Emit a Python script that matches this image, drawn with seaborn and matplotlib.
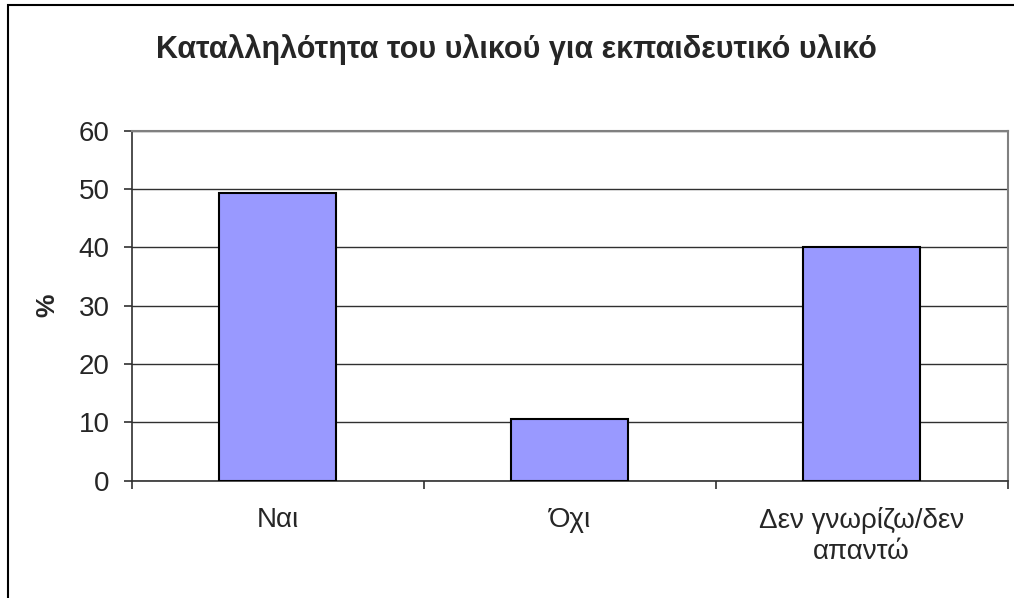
import matplotlib
matplotlib.use("Agg")
import matplotlib.pyplot as plt
import matplotlib.patches as patches
import seaborn as sns
import pandas as pd

categories = ["Ναι", "Όχι", "Δεν γνωρίζω/δεν\nαπαντώ"]
values = [49.3, 10.6, 40.1]
yticks = [0, 10, 20, 30, 40, 50, 60]
title = "Καταλληλότητα του υλικού για εκπαιδευτικό υλικό"

sns.set_theme(style="white")
plt.rcParams['font.family'] = ['Liberation Sans', 'DejaVu Sans']

df = pd.DataFrame({"cat": categories, "val": values})

fig = plt.figure(figsize=(10.14, 5.98), dpi=100)
ax = fig.add_axes([131.7/1014, 1-480.7/598, (1007.7-131.7)/1014, (480.7-130.7)/598])

sns.barplot(data=df, x="cat", y="val", ax=ax, color="#9999FF", saturation=1,
            width=0.4, edgecolor="black", linewidth=1.5, zorder=3)

ax.set_ylim(0, 60)
ax.set_xlim(-0.5, 2.5)
ax.set_yticks(yticks)
ax.set_yticklabels([str(t) for t in yticks], fontsize=20)
ax.yaxis.grid(True, color="#303030", linewidth=1.0, zorder=0)
ax.set_axisbelow(True)

ax.set_xticks(range(len(categories)))
ax.set_xticklabels(categories, fontsize=20, linespacing=1.25, va="top")
ax.set_xticks([-0.5, 0.5, 1.5, 2.5], minor=True)
ax.tick_params(axis="x", which="major", length=0, pad=19)
ax.tick_params(axis="x", which="minor", length=6, width=1.2, color="#303030", direction="out", bottom=True)
ax.tick_params(axis="y", which="major", length=6, width=1.2, color="#303030", direction="out", left=True, pad=10)

ax.set_xlabel("")
ax.set_ylabel("%", fontsize=19, fontweight="bold", labelpad=14)

for s in ["left", "bottom"]:
    ax.spines[s].set_color("#303030")
    ax.spines[s].set_linewidth(1.2)
for s in ["top", "right"]:
    ax.spines[s].set_color("#808080")
    ax.spines[s].set_linewidth(1.5)

fig.text(516/1014, 1-50/598, title, ha="center", va="center",
         fontsize=22, fontweight="bold")

fig.patches.append(patches.Rectangle((7.5/1014, -0.1), 1.2, 1.1 - 5/598,
                                     transform=fig.transFigure, fill=False,
                                     edgecolor="black", linewidth=1.5))

fig.savefig("out.png", dpi=100)
